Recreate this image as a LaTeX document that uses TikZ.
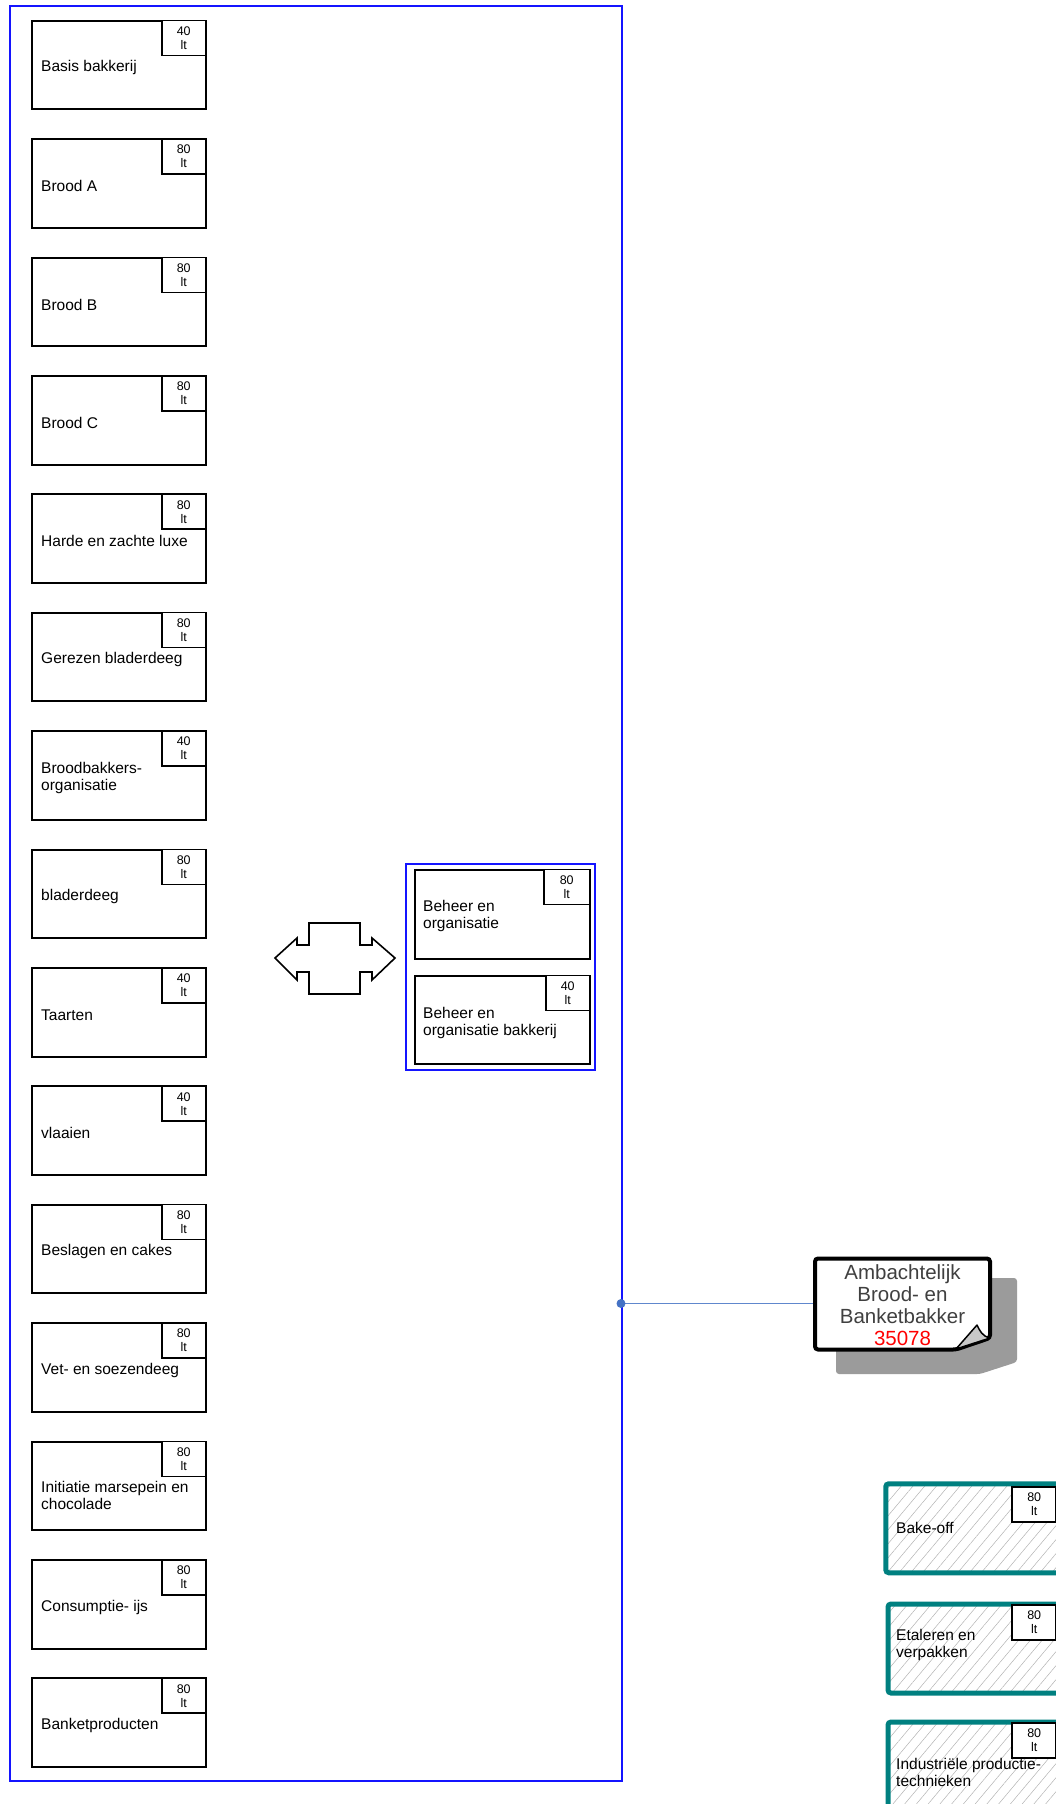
\documentclass[tikz,border=0pt]{standalone}
\usepackage{fontspec}
\setmainfont{Liberation Sans}
\usetikzlibrary{patterns.meta}
\definecolor{conblue}{RGB}{68,114,196}
\definecolor{tealb}{RGB}{0,128,128}
\definecolor{shadowgray}{RGB}{155,155,155}
\definecolor{notetext}{RGB}{64,64,64}
\definecolor{flapgray}{RGB}{200,200,200}
\definecolor{grpblue}{RGB}{20,20,255}
\pgfdeclarelayer{background}
\pgfsetlayers{background,main}
\tikzset{
  course/.style={draw=black, line width=2pt, fill=white, minimum width=174pt, minimum height=88.5pt, inner sep=0pt, anchor=north west},
  tagbox/.style={draw=black, line width=1.6pt, fill=white, minimum width=44pt, minimum height=35pt, inner sep=0pt, align=center, font=\fontsize{12.5}{14}\selectfont, anchor=north east},
  coursetext/.style={anchor=west, inner sep=0pt, align=left, font=\fontsize{15.5}{17}\selectfont},
  groupbox/.style={draw=grpblue, line width=2pt, inner sep=0pt, anchor=north west},
  hatchbox/.style={draw=tealb, line width=5pt, rounded corners=3pt, inner sep=0pt, anchor=north west,
     pattern={Lines[angle=50,distance=9pt,line width=0.5pt]}, pattern color=gray!60,
     minimum width=177pt, minimum height=89pt},
  notetxt/.style={align=center, inner sep=0pt, text=notetext, font=\fontsize{20.5}{21.8}\selectfont},
}
\begin{document}
\begin{tikzpicture}[x=1pt,y=-1pt]
\useasboundingbox (0,0) rectangle (1056,1804);

% groups
\node[groupbox, minimum width=612pt, minimum height=1775pt] (grp) at (9,4.5) {};
\node[groupbox, minimum width=189pt, minimum height=206pt] (sub) at (405,863) {};

% left course boxes
\foreach \t/\n/\off [count=\k from 0] in {
  {Basis bakkerij}/40/48,
  {Brood A}/80/48,
  {Brood B}/80/48,
  {Brood C}/80/48,
  {Harde en zachte luxe}/80/48,
  {Gerezen bladerdeeg}/80/48,
  {Broodbakkers-\\organisatie}/40/47.5,
  {bladerdeeg}/80/48,
  {Taarten}/40/48,
  {vlaaien}/40/48,
  {Beslagen en cakes}/80/48,
  {Vet- en soezendeeg}/80/48,
  {Initiatie marsepein en\\chocolade}/80/55,
  {Consumptie- ijs}/80/48,
  {Banketproducten}/80/48}{
  \node[course] (c\k) at (30.5, {19.8+\k*118.4}) {};
  \node[tagbox] (t\k) at (c\k.north east) {\n\\lt};
  \node[coursetext] (x\k) at ([xshift=10.5pt,yshift=-\off pt]c\k.north west) {\t};
}

% boxes in small group
\node[course, minimum width=175pt, minimum height=89pt] (b1) at (413.5,868.5) {};
\node[tagbox, minimum width=46pt] (bt1) at (b1.north east) {80\\lt};
\node[coursetext] (bx1) at ([xshift=9.5pt,yshift=-47pt]b1.north west) {Beheer en\\organisatie};
\node[course, minimum width=175pt, minimum height=88pt] (b2) at (413.5,974.5) {};
\node[tagbox] (bt2) at (b2.north east) {40\\lt};
\node[coursetext] (bx2) at ([xshift=9.5pt,yshift=-48.5pt]b2.north west) {Beheer en\\organisatie bakkerij};

% double arrow
\draw[line width=1.6pt, fill=white, line join=miter]
  (275,958) -- (297,938) -- (297,945) -- (309,945) -- (309,923) -- (360,923) -- (360,945)
  -- (372,945) -- (372,938) -- (395,958) -- (372,980) -- (372,972) -- (360,972) -- (360,994)
  -- (309,994) -- (309,972) -- (297,972) -- (297,980) -- cycle;

% note
\node[inner sep=0pt, minimum width=179pt, minimum height=94pt] (note) at (902.5,1303.5) {};
\node[notetxt] (notet) at (902.5,1305) {Ambachtelijk\\Brood- en\\Banketbakker\\\textcolor{red}{35078}};
\node[circle, fill=conblue, minimum size=9pt, inner sep=0pt] (dot) at (621,1303.5) {};
\begin{pgfonlayer}{background}
  \draw[conblue!85, line width=1pt] (dot.center) -- (note.west);
  \fill[shadowgray, rounded corners=3pt] (836,1278) -- (1017,1278) -- (1017,1362) -- (980,1374) -- (836,1374) -- cycle;
  \draw[line width=4pt, fill=white, rounded corners=3pt] (815,1258.5) -- (990,1258.5) -- (990,1338) -- (956,1349.5) -- (815,1349.5) -- cycle;
  \draw[line width=1.5pt, fill=flapgray, line join=round] (956,1349) -- (977,1325) .. controls (980,1331) and (982,1336) .. (990,1338) -- cycle;
\end{pgfonlayer}

% hatched boxes (partly outside the picture)
\begin{scope}
\clip (0,0) rectangle (1056,1804);
\node[hatchbox] (h1) at (885.5,1483.5) {};
\node[tagbox] (ht1) at (1057,1486) {80\\lt};
\node[coursetext] (hx1) at (896,1528) {Bake-off};
\node[hatchbox] (h2) at (885.5,1601.5) {};
\node[tagbox] (ht2) at (1057,1604) {80\\lt};
\node[coursetext] (hx2) at (896,1645) {Etaleren en\\verpakken};
\node[hatchbox] (h3) at (885.5,1719.5) {};
\node[tagbox] (ht3) at (1057,1722) {80\\lt};
\node[coursetext] (hx3) at (896,1772) {Industriële productie-\\technieken};
\end{scope}
\end{tikzpicture}
\end{document}
